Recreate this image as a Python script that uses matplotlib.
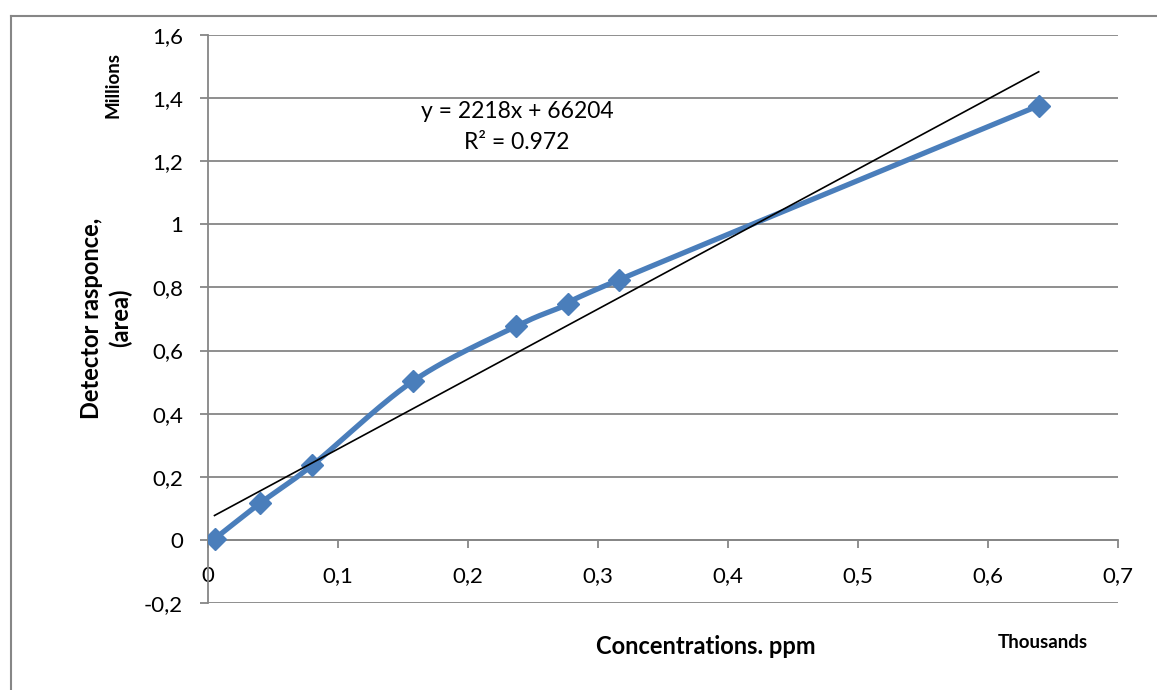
import numpy as np
import matplotlib.pyplot as plt
from matplotlib.ticker import FuncFormatter, MultipleLocator
from matplotlib.lines import Line2D

plt.rcParams['font.family'] = ['Lato', 'DejaVu Sans']

# calibration data: concentration (ppm) vs detector peak area
conc_ppm = [5, 40, 80, 158, 237, 277, 316, 639]
area = [3000, 116000, 236000, 504000, 677000, 747000, 824000, 1376000]

# linear trendline from Excel
slope = 2218
intercept = 66204
r2 = 0.972

blue = '#4A7EBB'
grid_gray = '#868686'

x = np.array(conc_ppm) / 1000.0   # thousands
y = np.array(area) / 1e6           # millions

fig = plt.figure(figsize=(11.57, 6.9), dpi=100)
ax = fig.add_axes([208 / 1157, 1 - 603 / 690, (1118 - 208) / 1157, (603 - 35) / 690])

ax.set_xlim(0, 0.7)
ax.set_ylim(-0.2, 1.6)


def comma(v, pos):
    return ('%g' % round(v, 2)).replace('.', ',')


ax.xaxis.set_major_locator(MultipleLocator(0.1))
ax.yaxis.set_major_locator(MultipleLocator(0.2))
ax.xaxis.set_major_formatter(FuncFormatter(comma))
ax.yaxis.set_major_formatter(FuncFormatter(comma))

ax.grid(axis='y', color=grid_gray, lw=1.3)
ax.set_axisbelow(True)
for s in ['top', 'right']:
    ax.spines[s].set_visible(False)
ax.spines['bottom'].set_position(('data', 0))
ax.spines['left'].set_color(grid_gray)
ax.spines['bottom'].set_color(grid_gray)
ax.spines['left'].set_linewidth(1.3)
ax.spines['bottom'].set_linewidth(1.3)
ax.tick_params(axis='both', direction='out', length=6, width=1.3, color=grid_gray,
               labelsize=16, pad=12)
ax.tick_params(axis='x', pad=13)


# smoothed line (Catmull-Rom style bezier in screen space, like Excel)
def smooth(xs, ys, n=30):
    pts = ax.transData.transform(np.column_stack([xs, ys]))
    p = np.vstack([pts[0], pts, pts[-1]])
    out = []
    for i in range(1, len(p) - 2):
        p0, p1, p2, p3 = p[i - 1], p[i], p[i + 1], p[i + 2]
        c1 = p1 + (p2 - p0) / 6
        c2 = p2 - (p3 - p1) / 6
        t = np.linspace(0, 1, n)[:, None]
        seg = ((1 - t) ** 3) * p1 + 3 * ((1 - t) ** 2) * t * c1 + 3 * (1 - t) * t ** 2 * c2 + t ** 3 * p2
        out.append(seg)
    curve = np.vstack(out)
    return ax.transData.inverted().transform(curve)


curve = smooth(x, y)
ax.plot(curve[:, 0], curve[:, 1], color=blue, lw=3.8, solid_capstyle='round', zorder=3)
ax.plot(x, y, ls='none', marker='D', ms=11.5, color=blue, zorder=4)

tx = np.array([conc_ppm[0], conc_ppm[-1]])
ax.plot(tx / 1000.0, (slope * tx + intercept) / 1e6, color='black', lw=1.2, zorder=5)

ax.text(0.2377, 1.359, 'y = %dx + %d' % (slope, intercept), ha='center', va='center', fontsize=16.5)
ax.text(0.2377, 1.258, 'R² = %g' % r2, ha='center', va='center', fontsize=16.5)

fig.text(113 / 1157, 1 - 85 / 690, 'Millions', rotation=90, ha='center', va='center',
         fontsize=13.5, fontweight='bold')
fig.text(1043 / 1157, 1 - 643 / 690, 'Thousands', ha='center', va='center',
         fontsize=13.5, fontweight='bold')
fig.text(706 / 1157, 1 - 647 / 690, 'Concentrations. ppm', ha='center', va='center',
         fontsize=17, fontweight='bold')
fig.text(106 / 1157, 1 - 318 / 690, 'Detector rasponce,\n(area)', rotation=90,
         ha='center', va='center', fontsize=17, fontweight='bold', linespacing=1.3)

# outer chart frame
fx, fy = 11 / 1157, 1 - 16 / 690
fig.add_artist(Line2D([fx, fx], [0, fy], color=grid_gray, lw=1.5, transform=fig.transFigure))
fig.add_artist(Line2D([fx, 1], [fy, fy], color=grid_gray, lw=1.5, transform=fig.transFigure))

fig.savefig('out.png', dpi=100)
